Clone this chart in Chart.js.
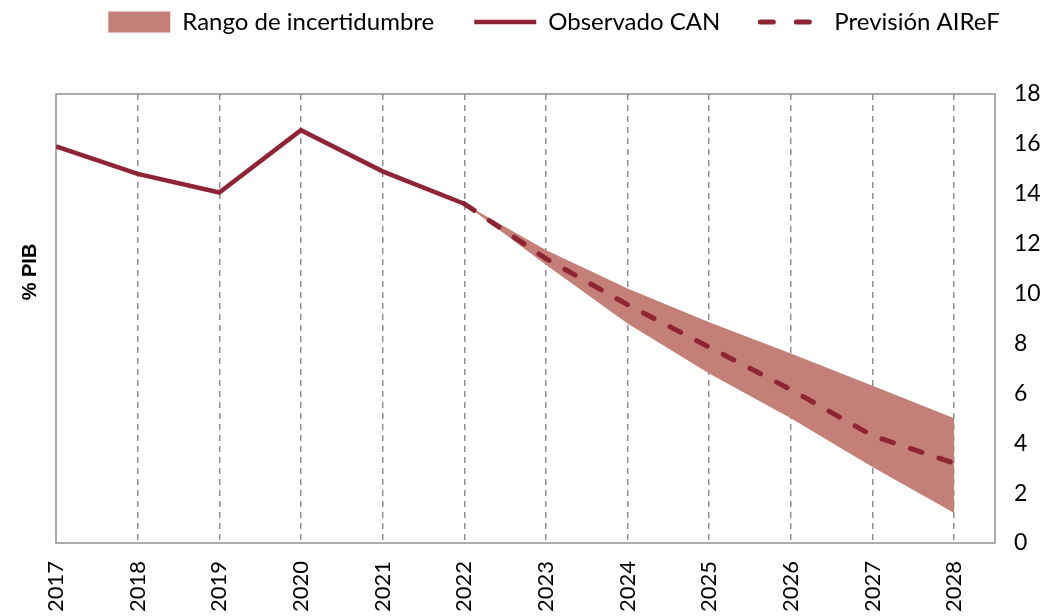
<!DOCTYPE html>
<html>
<head>
<meta charset="utf-8">
<script src="https://cdn.jsdelivr.net/npm/chart.js@4.4.0/dist/chart.umd.min.js"></script>
<style>
    html, body { margin: 0; padding: 0; background: #fff; }
    #wrap { width: 1052px; height: 616px; }
</style>
</head>
<body>
<div id="wrap"><canvas id="myChart"></canvas></div>
<script>
// @ts-check

const years = [2017, 2018, 2019, 2020, 2021, 2022, 2023, 2024, 2025, 2026, 2027, 2028];
const yTicks = [0, 2, 4, 6, 8, 10, 12, 14, 16, 18];

const observedYears = [2017, 2018, 2019, 2020, 2021, 2022];
const observedValues = [15.9, 14.8, 14.05, 16.55, 14.9, 13.6];

const forecastYears = [2022, 2023, 2024, 2025, 2026, 2027, 2028];
const forecastValues = [13.6, 11.4, 9.55, 7.85, 6.15, 4.3, 3.2];
const bandUpper = [13.6, 11.75, 10.2, 8.85, 7.6, 6.3, 5.0];
const bandLower = [13.6, 11.15, 8.8, 6.8, 5.0, 3.05, 1.2];

const LINE_COLOR = '#8E2434';
const BAND_COLOR = '#C47F78';
const GRID_COLOR = '#8f8f8f';
const FONT = 'Lato';

/**
 * Pair x and y arrays into Chart.js points
 * @param {number[]} xs
 * @param {number[]} ys
 */
function toPoints(xs, ys) {
    return xs.map((x, i) => ({ x: x, y: ys[i] }));
}

// frame round the plot area and the left axis title
const framePlugin = {
    id: 'frame',
    beforeDatasetsDraw(chart) {
        const { ctx, chartArea } = chart;
        ctx.save();
        ctx.strokeStyle = GRID_COLOR;
        ctx.lineWidth = 1.5;
        ctx.strokeRect(chartArea.left, chartArea.top, chartArea.right - chartArea.left, chartArea.bottom - chartArea.top);
        ctx.restore();
    },
    afterDraw(chart) {
        const { ctx } = chart;
        ctx.save();
        ctx.translate(30, 272);
        ctx.rotate(-Math.PI / 2);
        ctx.font = 'bold 20px "Liberation Sans"';
        ctx.fillStyle = '#000';
        ctx.textAlign = 'center';
        ctx.textBaseline = 'middle';
        ctx.fillText('% PIB', 0, 0);
        ctx.restore();
    }
};

const ctx = document.getElementById('myChart');
new Chart(ctx, {
    type: 'line',
    data: {
        datasets: [
            {
                label: 'Rango de incertidumbre',
                data: toPoints(forecastYears, bandUpper),
                borderWidth: 0,
                pointRadius: 0,
                backgroundColor: BAND_COLOR,
                fill: 3,
                order: 2
            },
            {
                label: 'Observado CAN',
                data: toPoints(observedYears, observedValues),
                borderColor: LINE_COLOR,
                borderWidth: 4.5,
                pointRadius: 0,
                tension: 0,
                fill: false,
                order: 0
            },
            {
                label: 'Previsión AIReF',
                data: toPoints(forecastYears, forecastValues),
                borderColor: LINE_COLOR,
                borderWidth: 5,
                borderDash: [12, 18],
                borderCapStyle: 'round',
                pointRadius: 0,
                tension: 0,
                fill: false,
                order: 0
            },
            {
                label: 'lower',
                data: toPoints(forecastYears, bandLower),
                borderWidth: 0,
                pointRadius: 0,
                fill: false,
                order: 2
            }
        ]
    },
    options: {
        responsive: true,
        maintainAspectRatio: false,
        animation: false,
        layout: { padding: { left: 56, top: -30 } },
        plugins: {
            tooltip: { enabled: false },
            legend: {
                position: 'top',
                labels: {
                    font: { family: FONT, size: 24 },
                    color: '#000',
                    usePointStyle: true,
                    pointStyleWidth: 62,
                    boxHeight: 21,
                    padding: 40,
                    generateLabels: (chart) => {
                        const ds = chart.data.datasets;
                        return [
                            { text: ds[0].label, fillStyle: BAND_COLOR, strokeStyle: BAND_COLOR, lineWidth: 0, pointStyle: 'rect', datasetIndex: 0 },
                            { text: ds[1].label, fillStyle: LINE_COLOR, strokeStyle: LINE_COLOR, lineWidth: 4.5, pointStyle: 'line', datasetIndex: 1 },
                            { text: ds[2].label, fillStyle: LINE_COLOR, strokeStyle: LINE_COLOR, lineWidth: 5, pointStyle: 'line', lineDash: [13, 23], lineCap: 'round', datasetIndex: 2 }
                        ];
                    }
                }
            }
        },
        scales: {
            x: {
                type: 'linear',
                min: 2017,
                max: 2028.5,
                afterBuildTicks: (axis) => { axis.ticks = years.map((v) => ({ value: v })); },
                afterFit: (axis) => { axis.height = 73; },
                grid: {
                    drawTicks: false,
                    lineWidth: 1.5,
                    color: (c) => (c.tick && c.tick.value === years[0] ? 'rgba(0,0,0,0)' : GRID_COLOR)
                },
                border: { display: false, dash: [6, 5] },
                ticks: {
                    minRotation: 90,
                    maxRotation: 90,
                    padding: 18,
                    color: '#000',
                    font: { family: FONT, size: 22 },
                    callback: (v) => String(v)
                }
            },
            xTop: {
                type: 'linear',
                position: 'top',
                min: 2017,
                max: 2028.5,
                afterFit: (axis) => { axis.height = 50; },
                grid: { display: false },
                border: { display: false },
                ticks: { display: false }
            },
            y: {
                position: 'right',
                min: 0,
                max: 18,
                afterBuildTicks: (axis) => { axis.ticks = yTicks.map((v) => ({ value: v })); },
                afterFit: (axis) => { axis.width = 57; },
                grid: { display: false },
                border: { display: false },
                ticks: {
                    padding: 11,
                    color: '#000',
                    font: { family: FONT, size: 23 }
                }
            }
        }
    },
    plugins: [framePlugin]
});
</script>
</body>
</html>
